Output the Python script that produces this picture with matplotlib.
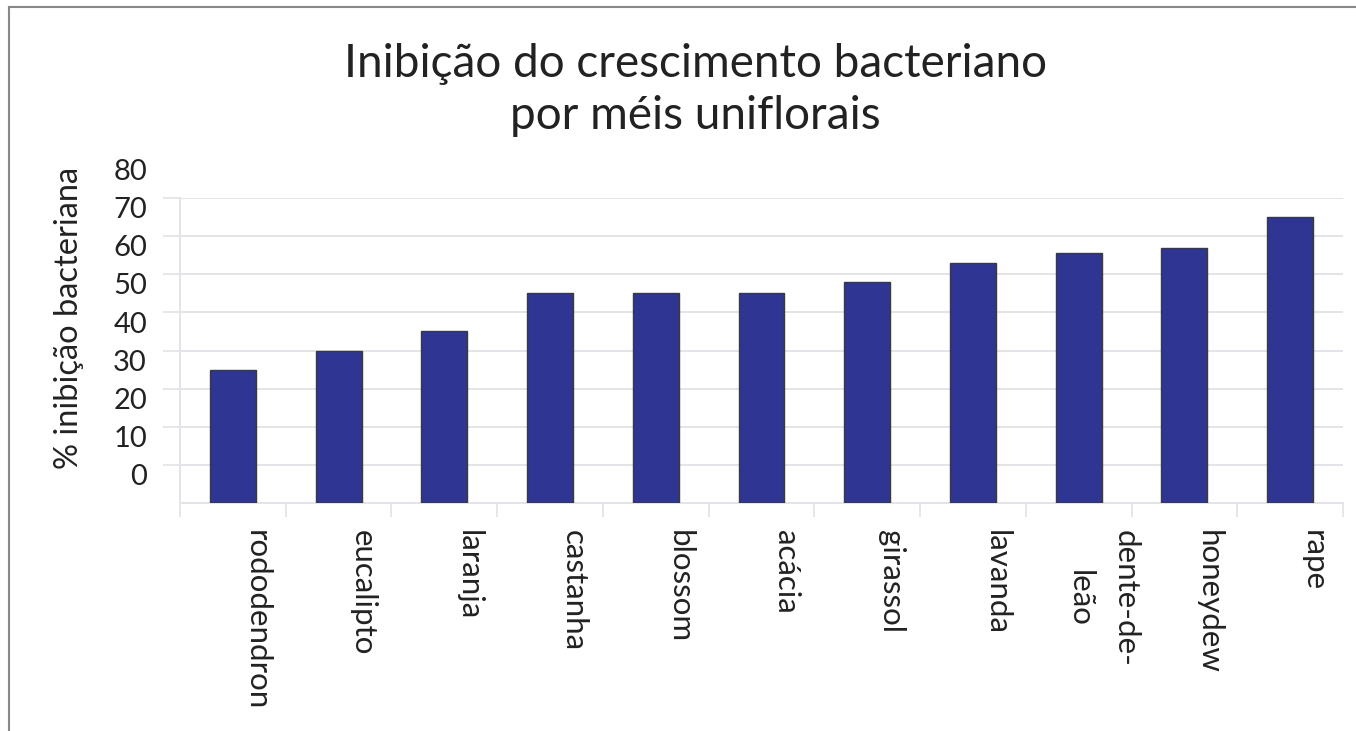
import matplotlib
matplotlib.use("Agg")
import matplotlib.pyplot as plt
from matplotlib.lines import Line2D
import matplotlib.transforms as mtransforms

plt.rcParams['font.family'] = ['Lato', 'DejaVu Sans']

categories = ["rododendron", "eucalipto", "laranja", "castanha", "blossom",
              "acácia", "girassol", "lavanda", "dente-de-\nleão", "honeydew", "rape"]
values = [25, 30, 35, 45, 45, 45, 48, 53, 55.5, 57, 65]
ytick_values = [0, 10, 20, 30, 40, 50, 60, 70, 80]
title = "Inibição do crescimento bacteriano\npor méis uniflorais"
ylabel = "% inibição bacteriana"

W, H = 1356, 731
fig = plt.figure(figsize=(W / 100, H / 100), dpi=100)
fig.patch.set_facecolor("white")

ax = fig.add_axes([180 / W, 1 - 503 / H, (1343 - 180) / W, (503 - 198) / H])
ymin, ymax = -10, 70
ax.set_ylim(ymin, ymax)
ax.set_xlim(-0.5, len(categories) - 0.5)

x = list(range(len(categories)))
ax.bar(x, [v - ymin for v in values], bottom=ymin, width=0.435,
       color="#2E3592", edgecolor="#3a3a3a", linewidth=1.0, zorder=3)

grid_c = "#e3e3e8"
ax.set_yticks([t for t in ytick_values if t <= ymax])
ax.set_yticklabels([])
ax.yaxis.grid(True, color=grid_c, linewidth=1.4, zorder=0)
ax.tick_params(axis="y", length=12, color=grid_c, width=1.2)

ax.set_xticks(x)
ax.set_xticklabels([])
ax.set_xticks([i - 0.5 for i in range(len(categories) + 1)], minor=True)
ax.tick_params(axis="x", which="major", length=0)
ax.tick_params(axis="x", which="minor", length=10, color=grid_c, width=1.2)

# category labels (rotated, shifted slightly right of the bar centres as in the reference)
xtrans = mtransforms.offset_copy(
    mtransforms.blended_transform_factory(ax.transData, ax.transAxes),
    fig=fig, x=24, y=-27, units="dots")
for i, lab in zip(x, categories):
    ax.text(i, 0, lab, transform=xtrans, rotation=270, ha="center", va="top",
            multialignment="center", linespacing=1.75, fontsize=22.5,
            color="#222222", clip_on=False)

for s in ["top", "right"]:
    ax.spines[s].set_visible(False)
ax.spines["left"].set_color(grid_c)
ax.spines["left"].set_linewidth(1.4)
ax.spines["bottom"].set_color(grid_c)
ax.spines["bottom"].set_linewidth(1.4)

# y tick labels (drawn slightly below their grid lines, as in the reference)
trans = mtransforms.blended_transform_factory(ax.transAxes, ax.transData)
for t in ytick_values:
    ax.text(-33 / (1343 - 180), t - 3.2, str(t), transform=trans,
            ha="right", va="center", fontsize=21, color="#222222", clip_on=False)

fig.text(69 / W, 1 - 318 / H, ylabel, rotation=90, ha="center", va="center",
         fontsize=23.5, color="#222222")

fig.text(695 / W, 1 - 90 / H, title, ha="center", va="center",
         multialignment="center", fontsize=33, color="#222222", linespacing=1.3)

# outer frame (left and top edges)
fig.add_artist(Line2D([9 / W, 9 / W], [0, 1 - 7 / H], transform=fig.transFigure,
                      color="#888888", linewidth=1.5))
fig.add_artist(Line2D([9 / W, 1], [1 - 7 / H, 1 - 7 / H], transform=fig.transFigure,
                      color="#888888", linewidth=1.5))

fig.savefig("out.png", dpi=100, facecolor="white")
